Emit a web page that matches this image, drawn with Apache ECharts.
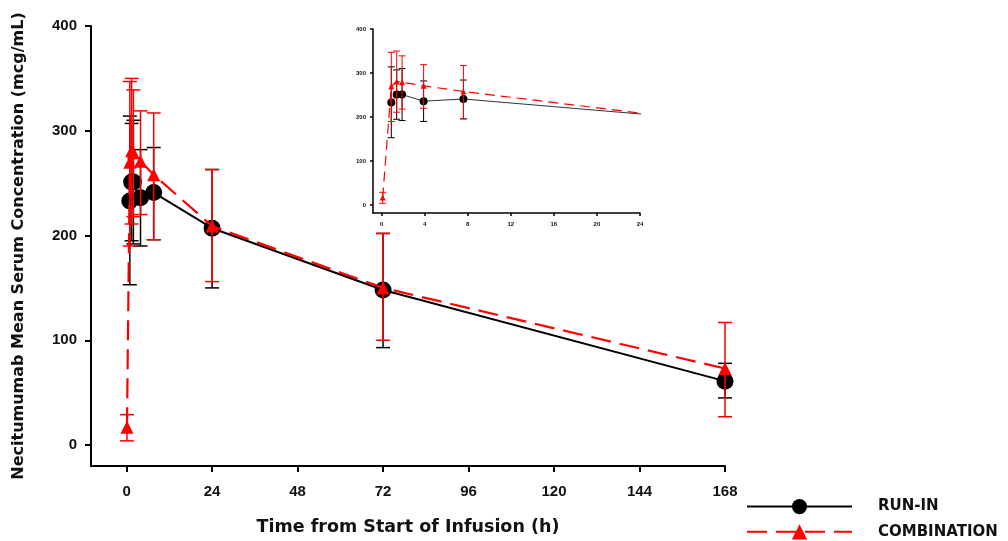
<!DOCTYPE html>
<html><head><meta charset="utf-8">
<script src="https://cdn.jsdelivr.net/npm/echarts@6/dist/echarts.min.js"></script>
<style>html,body{margin:0;padding:0;background:#fff}#c{width:1008px;height:541px}</style>
</head><body><div id="c"></div>
<script>
// ---- data ----
const runTimes  = [0.9, 1.4, 1.9, 3.9, 7.6, 24, 72, 168];
const runMean   = [233, 251, 251, 236, 241, 207, 148, 61];
const runLow    = [153, 195, 192, 190, 196, 150, 93, 45];
const runHigh   = [314, 307, 310, 282, 284, 263, 202, 78];

const comboTimes = [0.1, 0.9, 1.4, 1.9, 3.9, 7.6, 24, 72, 168];
const comboMean  = [17, 270, 281, 279, 271, 258, 209, 150, 73];
const comboLow   = [4, 190, 211, 218, 220, 196, 156, 100, 27];
const comboHigh  = [29, 347, 350, 339, 319, 317, 263, 202, 117];

const mainXTicks = [0, 24, 48, 72, 96, 120, 144, 168];
const mainYTicks = [0, 100, 200, 300, 400];
const insetXTicks = [0, 4, 8, 12, 16, 20, 24];
const insetYTicks = [0, 100, 200, 300, 400];
const insetMaxT = 24;

const FONT = 'Arial, "Liberation Sans", sans-serif';
const WIDE = '"DejaVu Sans", Verdana, sans-serif';

function pts(t, v) { return t.map((x, i) => [x, v[i]]); }
function errs(t, lo, hi, maxT) {
  return t.map((x, i) => [x, lo[i], hi[i]]).filter(d => maxT == null || d[0] < maxT);
}
function errRender(capHalf, color, width) {
  return function (params, api) {
    const x = api.value(0), lo = api.value(1), hi = api.value(2);
    const a = api.coord([x, lo]), b = api.coord([x, hi]);
    const st = { stroke: color, lineWidth: width };
    return { type: 'group', children: [
      { type: 'line', shape: { x1: a[0], y1: a[1], x2: b[0], y2: b[1] }, style: st },
      { type: 'line', shape: { x1: a[0] - capHalf, y1: a[1], x2: a[0] + capHalf, y2: a[1] }, style: st },
      { type: 'line', shape: { x1: b[0] - capHalf, y1: b[1], x2: b[0] + capHalf, y2: b[1] }, style: st }
    ]};
  };
}
function insetSize(s) { return function (v) { return v[0] >= insetMaxT ? 0 : s; }; }

function axisCommon(ticks, fs, margin, tickLen, lw) {
  return {
    axisLine: { show: true, onZero: false, lineStyle: { color: '#000', width: lw } },
    axisTick: { show: true, customValues: ticks, length: tickLen, lineStyle: { color: '#000', width: lw } },
    axisLabel: { customValues: ticks, fontFamily: FONT, fontWeight: 'bold', fontSize: fs, color: '#111', margin: margin },
    splitLine: { show: false }
  };
}

const chart = echarts.init(document.getElementById('c'), null, { renderer: 'canvas' });
const option = {
  animation: false,
  backgroundColor: '#fff',
  grid: [
    { left: 91, top: 26, width: 634, height: 441 },
    { left: 373, top: 29, width: 267, height: 184 }
  ],
  xAxis: [
    Object.assign({ type: 'value', gridIndex: 0, min: -10, max: 168,
      name: 'Time from Start of Infusion (h)', nameLocation: 'middle', nameGap: 52,
      nameTextStyle: { fontFamily: WIDE, fontWeight: 'bold', fontSize: 17.5, color: '#111' } },
      axisCommon(mainXTicks, 15, 18, 6, 2)),
    Object.assign({ type: 'value', gridIndex: 1, min: -0.8, max: 24 },
      axisCommon(insetXTicks, 6, 8, 3, 1.5))
  ],
  yAxis: [
    Object.assign({ type: 'value', gridIndex: 0, min: -20, max: 400,
      name: 'Necitumumab Mean Serum Concentration (mcg/mL)', nameLocation: 'middle', nameGap: 64,
      nameTextStyle: { fontFamily: WIDE, fontWeight: 'bold', fontSize: 16, color: '#111' } },
      axisCommon(mainYTicks, 15, 14, 6, 2)),
    Object.assign({ type: 'value', gridIndex: 1, min: -18, max: 400 },
      axisCommon(insetYTicks, 6, 7, 3, 1.5))
  ],
  legend: {
    orient: 'vertical', left: 746, top: 499, padding: 0, itemWidth: 105, itemHeight: 19, itemGap: 10,
    data: ['RUN-IN', 'COMBINATION'],
    textStyle: { fontFamily: WIDE, fontWeight: 'bold', fontSize: 15, color: '#111', padding: [0, 0, 0, 21] }
  },
  series: [
    // main plot
    { type: 'custom', name: 'runErr', xAxisIndex: 0, yAxisIndex: 0, renderItem: errRender(7, '#000', 1.5),
      data: errs(runTimes, runLow, runHigh), encode: { x: 0, y: [1, 2] }, z: 2 },
    { type: 'line', name: 'RUN-IN', xAxisIndex: 0, yAxisIndex: 0, data: pts(runTimes, runMean),
      symbol: 'circle', symbolSize: 17, itemStyle: { color: '#000' },
      lineStyle: { color: '#000', width: 2 }, z: 3 },
    { type: 'custom', name: 'comboErr', xAxisIndex: 0, yAxisIndex: 0, renderItem: errRender(7, '#ff0000', 1.5),
      data: errs(comboTimes, comboLow, comboHigh), encode: { x: 0, y: [1, 2] }, z: 4 },
    { type: 'line', name: 'COMBINATION', xAxisIndex: 0, yAxisIndex: 0, data: pts(comboTimes, comboMean),
      symbol: 'triangle', symbolSize: 13, itemStyle: { color: '#ff0000' },
      lineStyle: { color: '#ff0000', width: 2.2, type: [20, 9] }, z: 5 },
    // inset
    { type: 'custom', name: 'runErrI', xAxisIndex: 1, yAxisIndex: 1, renderItem: errRender(3.5, '#000', 1),
      data: errs(runTimes, runLow, runHigh, insetMaxT), encode: { x: 0, y: [1, 2] }, z: 2 },
    { type: 'line', name: 'runI', xAxisIndex: 1, yAxisIndex: 1, data: pts(runTimes, runMean),
      symbol: 'circle', symbolSize: insetSize(8), itemStyle: { color: '#000' },
      lineStyle: { color: '#333', width: 1 }, clip: true, z: 3 },
    { type: 'custom', name: 'comboErrI', xAxisIndex: 1, yAxisIndex: 1, renderItem: errRender(3.5, '#ff0000', 1),
      data: errs(comboTimes, comboLow, comboHigh, insetMaxT), encode: { x: 0, y: [1, 2] }, z: 4 },
    { type: 'line', name: 'comboI', xAxisIndex: 1, yAxisIndex: 1, data: pts(comboTimes, comboMean),
      symbol: 'triangle', symbolSize: insetSize(6), itemStyle: { color: '#ff0000' },
      lineStyle: { color: '#ff0000', width: 1.2, type: [10, 6] }, clip: true, z: 5 }
  ]
};
chart.setOption(option);
</script></body></html>
